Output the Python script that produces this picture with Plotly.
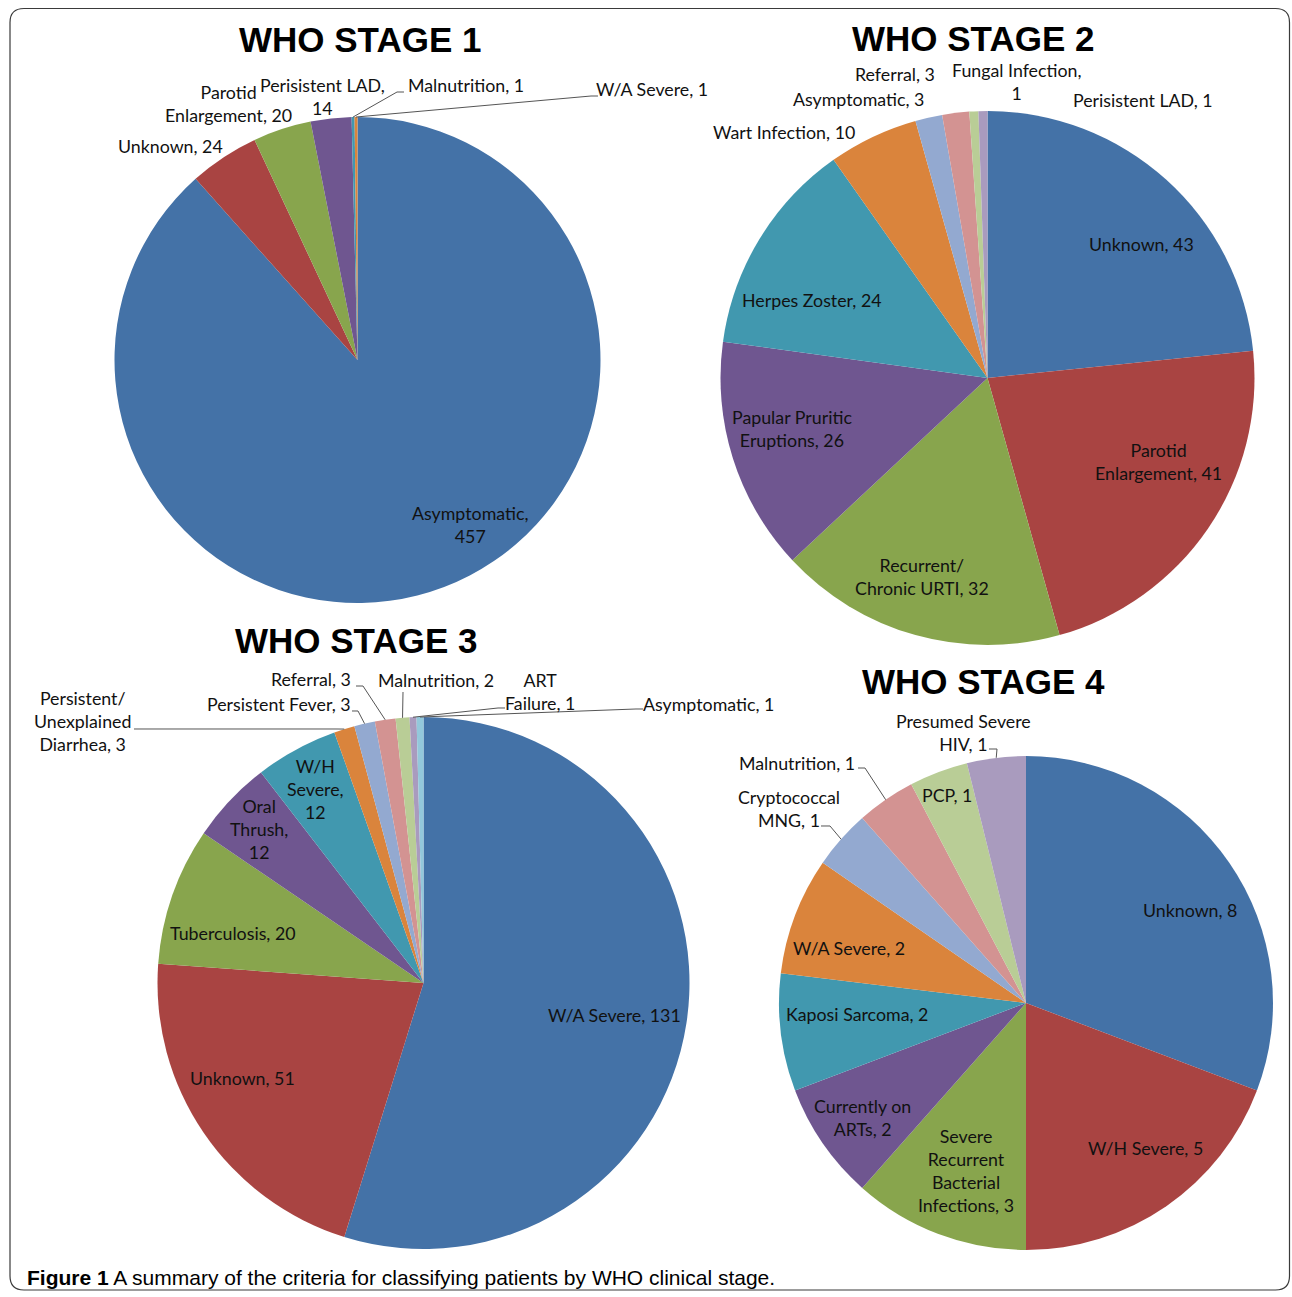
import math
import plotly.graph_objects as go

W, H = 1292, 1297
OFF = 0  # body margin removed via post_script below

# ---------------- data ----------------
S1_LABELS = ["Asymptomatic", "Unknown", "Parotid Enlargement", "Perisistent LAD",
             "Malnutrition", "W/A Severe"]
S1_VALUES = [457, 24, 20, 14, 1, 1]

S2_LABELS = ["Unknown", "Parotid Enlargement", "Recurrent/ Chronic URTI",
             "Papular Pruritic Eruptions", "Herpes Zoster", "Wart Infection",
             "Asymptomatic", "Referral", "Fungal Infection", "Perisistent LAD"]
S2_VALUES = [43, 41, 32, 26, 24, 10, 3, 3, 1, 1]

S3_LABELS = ["W/A Severe", "Unknown", "Tuberculosis", "Oral Thrush", "W/H Severe",
             "Persistent/ Unexplained Diarrhea", "Persistent Fever", "Referral",
             "Malnutrition", "ART Failure", "Asymptomatic"]
S3_VALUES = [131, 51, 20, 12, 12, 3, 3, 3, 2, 1, 1]

S4_LABELS = ["Unknown", "W/H Severe", "Severe Recurrent Bacterial Infections",
             "Currently on ARTs", "Kaposi Sarcoma", "W/A Severe", "Cryptococcal MNG",
             "Malnutrition", "PCP", "Presumed Severe HIV"]
S4_VALUES = [8, 5, 3, 2, 2, 2, 1, 1, 1, 1]

TITLES = ["WHO STAGE 1", "WHO STAGE 2", "WHO STAGE 3", "WHO STAGE 4"]
CAPTION_BOLD = "Figure 1"
CAPTION_TEXT = "A summary of the criteria for classifying patients by WHO clinical stage."

# ---------------- style / layout ----------------
COLORS = ["#4472A7", "#A94442", "#88A54D", "#6F5690", "#4198AF", "#DA843C",
          "#93A9D0", "#D39392", "#B9CD96", "#A99BBE", "#93C8DB"]
LABEL_FONT = dict(family="Lato, Liberation Sans, sans-serif", size=17.8, color="#111111")
LEADER_COLOR = "#555555"

# pie geometry: centre (px on screen) and radius (px)
PIES = [
    dict(cx=357.5, cy=360, r=243),
    dict(cx=987.5, cy=378, r=267),
    dict(cx=423.5, cy=983, r=266),
    dict(cx=1026, cy=1003, r=247),
]
TITLE_POS = [(360, 40), (973, 38), (356, 640), (983, 681)]

# label text templates and positions (px); leader = elbow points from pie edge outwards
S1_PLACE = [
    dict(t="Asymptomatic,<br>{v}", p=(470, 524)),
    dict(t="Unknown, {v}", p=(170, 146)),
    dict(t="Parotid<br>Enlargement, {v}", p=(228, 104)),
    dict(t="Perisistent LAD,<br>{v}", p=(322, 96)),
    dict(t="Malnutrition, {v}", p=(466, 85), lead=[(397, 92), (404, 92)]),
    dict(t="W/A Severe, {v}", p=(652, 89), lead=[(591, 96), (598, 96)]),
]
S2_PLACE = [
    dict(t="Unknown, {v}", p=(1141, 244)),
    dict(t="Parotid<br>Enlargement, {v}", p=(1158, 461)),
    dict(t="Recurrent/<br>Chronic URTI, {v}", p=(922, 576)),
    dict(t="Papular Pruritic<br>Eruptions, {v}", p=(792, 428)),
    dict(t="Herpes Zoster, {v}", p=(812, 300)),
    dict(t="Wart Infection, {v}", p=(784, 132)),
    dict(t="Asymptomatic, {v}", p=(858, 99)),
    dict(t="Referral, {v}", p=(895, 74)),
    dict(t="Fungal Infection,<br>{v}", p=(1017, 82)),
    dict(t="Perisistent LAD, {v}", p=(1143, 100)),
]
S3_PLACE = [
    dict(t="W/A Severe, {v}", p=(614, 1015)),
    dict(t="Unknown, {v}", p=(242, 1078)),
    dict(t="Tuberculosis, {v}", p=(233, 933)),
    dict(t="Oral<br>Thrush,<br>{v}", p=(259, 829)),
    dict(t="W/H<br>Severe,<br>{v}", p=(315, 789)),
    dict(t="Persistent/<br>Unexplained<br>Diarrhea, {v}", p=(82, 721),
         lead=[(336, 729), (134, 729)]),
    dict(t="Persistent Fever, {v}", p=(279, 704), lead=[(358, 711), (352, 711)]),
    dict(t="Referral, {v}", p=(311, 679), lead=[(363, 686), (356, 686)]),
    dict(t="Malnutrition, {v}", p=(436, 680), lead=[(403, 692)]),
    dict(t="ART<br>Failure, {v}", p=(540, 691), lead=[(498, 708), (505, 708)]),
    dict(t="Asymptomatic, {v}", p=(708, 704), lead=[(636, 709), (643, 709)]),
]
S4_PLACE = [
    dict(t="Unknown, {v}", p=(1190, 910)),
    dict(t="W/H Severe, {v}", p=(1145, 1148)),
    dict(t="Severe<br>Recurrent<br>Bacterial<br>Infections, {v}", p=(966, 1170)),
    dict(t="Currently on<br>ARTs, {v}", p=(862, 1117)),
    dict(t="Kaposi Sarcoma, {v}", p=(857, 1014)),
    dict(t="W/A Severe, {v}", p=(849, 948)),
    dict(t="Cryptococcal<br>MNG, {v}", p=(789, 808), lead=[(830, 826), (821, 826)]),
    dict(t="Malnutrition, {v}", p=(797, 763), lead=[(865, 768), (858, 768)]),
    dict(t="PCP, {v}", p=(947, 795)),
    dict(t="Presumed Severe<br>HIV, {v}", p=(964, 732), lead=[(997, 749), (989, 749)]),
]

STAGES = [
    (S1_LABELS, S1_VALUES, S1_PLACE),
    (S2_LABELS, S2_VALUES, S2_PLACE),
    (S3_LABELS, S3_VALUES, S3_PLACE),
    (S4_LABELS, S4_VALUES, S4_PLACE),
]


def px(x):
    return (x - OFF) / W


def py(y):
    return 1 - (y - OFF) / H


fig = go.Figure()
annotations = []
shapes = []

for i, ((labels, values, place), geo, title, tpos) in enumerate(
        zip(STAGES, PIES, TITLES, TITLE_POS)):
    cx, cy, r = geo["cx"], geo["cy"], geo["r"]
    fig.add_trace(go.Pie(
        labels=labels, values=values, sort=False, direction="clockwise", rotation=0,
        marker=dict(colors=COLORS[:len(values)], line=dict(width=0)),
        textinfo="none", hoverinfo="label+value", showlegend=False,
        domain=dict(x=[px(cx - r), px(cx + r)], y=[py(cy + r), py(cy - r)]),
    ))
    annotations.append(dict(
        text="<b>%s</b>" % title, x=px(tpos[0]), y=py(tpos[1]), xref="paper", yref="paper",
        showarrow=False, xanchor="center", yanchor="middle",
        font=dict(family="Liberation Sans, Arial, sans-serif", size=35, color="#000000")))
    total = float(sum(values))
    cum = 0.0
    for v, pl in zip(values, place):
        mid = (cum + v / 2.0) / total * 2 * math.pi
        cum += v
        annotations.append(dict(
            text=pl["t"].format(v=v), x=px(pl["p"][0]), y=py(pl["p"][1]),
            xref="paper", yref="paper", showarrow=False, xanchor="center",
            yanchor="middle", align="center", font=LABEL_FONT))
        if "lead" in pl:
            ex = cx + r * math.sin(mid)
            ey = cy - r * math.cos(mid)
            pts = [(ex, ey)] + pl["lead"]
            path = "M %f %f " % (px(pts[0][0]), py(pts[0][1])) + " ".join(
                "L %f %f" % (px(a), py(b)) for a, b in pts[1:])
            shapes.append(dict(type="path", path=path, xref="paper", yref="paper",
                               line=dict(color=LEADER_COLOR, width=1)))

# caption
annotations.append(dict(
    text="<b>%s</b> %s" % (CAPTION_BOLD, CAPTION_TEXT), x=px(25), y=py(1277),
    xref="paper", yref="paper", showarrow=False, xanchor="left", yanchor="middle",
    font=dict(family="Liberation Sans, Arial, sans-serif", size=21, color="#000000")))

# rounded frame
x0, y0, x1, y1, rad = 10, 8.5, 1289.5, 1290, 14
frame = ("M {a} {b} L {c} {b} Q {d} {b} {d} {e} L {d} {f} Q {d} {g} {c} {g} "
         "L {a} {g} Q {h} {g} {h} {f} L {h} {e} Q {h} {b} {a} {b} Z").format(
    a=px(x0 + rad), b=py(y0), c=px(x1 - rad), d=px(x1), e=py(y0 + rad),
    f=py(y1 - rad), g=py(y1), h=px(x0))
shapes.append(dict(type="path", path=frame, xref="paper", yref="paper",
                   line=dict(color="#3a3a3a", width=1.2), layer="below"))

fig.update_layout(
    width=W, height=H, margin=dict(l=0, r=0, t=0, b=0),
    paper_bgcolor="white", plot_bgcolor="white",
    annotations=annotations, shapes=shapes,
)

fig.write_html("out.html", config={"displayModeBar": False},
               post_script="document.body.style.margin='0';"
                           "document.body.style.overflow='hidden';")
